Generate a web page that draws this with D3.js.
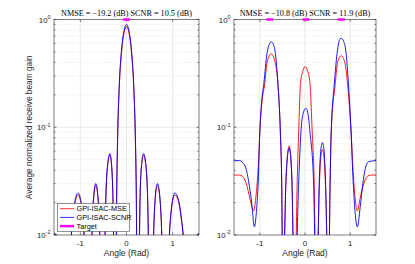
<!DOCTYPE html>
<html>
<head>
<meta charset="utf-8">
<script src="https://cdn.jsdelivr.net/npm/d3@7"></script>
<style>
  body { margin: 0; background: #fff; }
  svg { display: block; font-family: "Liberation Sans", Arial, sans-serif; }
</style>
</head>
<body>
<div id="viz"></div>
<script>
// beam gain vs angle, two panels, log y axis
// values

const angleTicks = [-1, 0, 1];
const gainTicks = [0.01, 0.1, 1];
const gainTickExp = ['-2', '-1', '0'];
const seriesNames = ['GPI-ISAC-MSE', 'GPI-ISAC-SCNR', 'Target'];
const titles = ['NMSE = \u221219.2 (dB) SCNR = 10.5 (dB)', 'NMSE = \u221210.8 (dB) SCNR = 11.9 (dB)'];

// left panel
const leftAngle = [-1.571, -1.52, -1.44, -1.31, -1.18, -1.115, -1.05, -0.99, -0.93, -0.81, -0.7375, -0.70, -0.665, -0.63, -0.5925, -0.52,
  -0.44, -0.40, -0.36, -0.33, -0.30, -0.24, -0.21, -0.19, -0.155, -0.108, -0.05, 0, 0.05, 0.108, 0.155, 0.19, 0.21, 0.24,
  0.30, 0.335, 0.37, 0.41, 0.45, 0.525, 0.60, 0.635, 0.67, 0.71, 0.75, 0.83, 0.94, 0.995, 1.05, 1.13, 1.21, 1.37, 1.46, 1.53, 1.571];
const leftMse = [0.0102, 0.0100, 0.004, 0.002, 0.0118, 0.0200, 0.0235, 0.0200, 0.0118, 0.001, 0.0145, 0.0247, 0.029, 0.0247, 0.0145, 0.001,
  0.0275, 0.047, 0.055, 0.047, 0.0275, 0.001, 0.028, 0.085, 0.24, 0.49, 0.76, 0.86, 0.76, 0.49, 0.24, 0.085, 0.028, 0.001,
  0.0275, 0.047, 0.055, 0.047, 0.0275, 0.001, 0.0145, 0.0247, 0.029, 0.0247, 0.0145, 0.001, 0.0118, 0.0200, 0.0235, 0.0200, 0.0118, 0.002, 0.004, 0.0100, 0.0102];
const leftScnr = [0.0103, 0.0101, 0.004, 0.002, 0.0122, 0.0209, 0.0245, 0.0209, 0.0122, 0.001, 0.015, 0.0256, 0.030, 0.0256, 0.015, 0.001,
  0.0285, 0.0487, 0.057, 0.0487, 0.0285, 0.001, 0.031, 0.09, 0.256, 0.52, 0.80, 0.90, 0.80, 0.52, 0.256, 0.09, 0.031, 0.001,
  0.0285, 0.0487, 0.057, 0.0487, 0.0285, 0.001, 0.015, 0.0256, 0.030, 0.0256, 0.015, 0.001, 0.0122, 0.0209, 0.0245, 0.0209, 0.0122, 0.002, 0.004, 0.0101, 0.0103];
const leftTarget = [[-0.075, 0.075]];

// right panel
const rightMseAngle = [-1.571, -1.45, -1.38, -1.30, -1.22, -1.14, -1.08, -1.035, -1.0, -0.96, -0.89, -0.84, -0.745, -0.66, -0.60, -0.545, -0.515, -0.49,
  -0.42, -0.385, -0.35, -0.32, -0.29, -0.23, -0.17, -0.14, -0.10, -0.05, 0.0, 0.06, 0.11, 0.16, 0.20, 0.25,
  0.32, 0.35, 0.385, 0.42, 0.45, 0.52, 0.555, 0.58, 0.67, 0.72, 0.80, 0.88, 0.94, 1.02, 1.06, 1.10, 1.16, 1.22, 1.30, 1.38, 1.45, 1.571];
const rightMse = [0.036, 0.036, 0.035, 0.030, 0.022, 0.0167, 0.024, 0.042, 0.09, 0.16, 0.256, 0.40, 0.48, 0.40, 0.256, 0.09, 0.03, 0.003,
  0.034, 0.057, 0.067, 0.057, 0.034, 0.002, 0.035, 0.09, 0.256, 0.33, 0.365, 0.33, 0.256, 0.09, 0.035, 0.002,
  0.031, 0.053, 0.062, 0.053, 0.031, 0.003, 0.03, 0.09, 0.256, 0.40, 0.46, 0.40, 0.256, 0.09, 0.042, 0.024, 0.0167, 0.022, 0.030, 0.035, 0.036, 0.036];
const rightScnrAngle = [-1.571, -1.45, -1.38, -1.31, -1.25, -1.18, -1.12, -1.07, -1.035, -1.0, -0.96, -0.91, -0.84, -0.79, -0.745, -0.70, -0.655, -0.60, -0.545, -0.515, -0.49,
  -0.42, -0.385, -0.35, -0.32, -0.29, -0.23, -0.14, -0.09, -0.04, 0.02, 0.07, 0.11, 0.19, 0.25,
  0.32, 0.35, 0.385, 0.42, 0.45, 0.52, 0.555, 0.58, 0.65, 0.71, 0.75, 0.80, 0.86, 0.91, 0.96, 1.02, 1.06, 1.10, 1.16, 1.22, 1.28, 1.35, 1.41, 1.571];
const rightScnr = [0.049, 0.049, 0.047, 0.042, 0.032, 0.020, 0.0119, 0.0175, 0.031, 0.09, 0.17, 0.256, 0.485, 0.59, 0.62, 0.59, 0.485, 0.256, 0.09, 0.03, 0.003,
  0.032, 0.0547, 0.064, 0.0547, 0.032, 0.002, 0.031, 0.09, 0.135, 0.15, 0.13, 0.09, 0.031, 0.002,
  0.036, 0.0615, 0.072, 0.0615, 0.036, 0.003, 0.03, 0.09, 0.256, 0.485, 0.62, 0.67, 0.62, 0.485, 0.256, 0.09, 0.035, 0.018, 0.0119, 0.018, 0.03, 0.044, 0.048, 0.049];
const rightTarget = [[-0.855, -0.705], [-0.05, 0.10], [0.72, 0.88]];

const colors = { mse: '#ff0000', scnr: '#0000ff', target: '#ff00ff' };
const axisColor = '#262626';

function drawChart() {
    const dimensions = {
        width: 415,
        height: 264,
        top: 19.5,
        bottom: 235
    };

    const panels = [
        { id: 'l', left: 54, right: 199, title: titles[0],
          mse: d3.zip(leftAngle, leftMse), scnr: d3.zip(leftAngle, leftScnr), target: leftTarget },
        { id: 'r', left: 234, right: 376, title: titles[1],
          mse: d3.zip(rightMseAngle, rightMse), scnr: d3.zip(rightScnrAngle, rightScnr), target: rightTarget }
    ];

    const svg = d3.select('#viz').append('svg')
        .attr('width', dimensions.width)
        .attr('height', dimensions.height);

    panels.forEach(p => drawPanel(svg, p, dimensions));

    // y label
    svg.append('text')
        .attr('transform', `translate(32, ${(dimensions.top + dimensions.bottom) / 2}) rotate(-90)`)
        .attr('text-anchor', 'middle')
        .attr('font-size', 8.3)
        .attr('fill', axisColor)
        .text('Average normalized receive beam gain');

    // legend on left panel
    const legend = svg.append('g').attr('transform', 'translate(57.5, 203.5)');
    legend.append('rect')
        .attr('width', 72).attr('height', 28)
        .attr('fill', '#fff')
        .attr('stroke', axisColor)
        .attr('stroke-width', 0.5);
    const legendColors = [colors.mse, colors.scnr, colors.target];
    const legendWidths = [0.8, 0.8, 2.5];
    seriesNames.forEach((name, i) => {
        const yy = 5.2 + i * 8.7;
        legend.append('line')
            .attr('x1', 2.5).attr('x2', 16.5)
            .attr('y1', yy).attr('y2', yy)
            .attr('stroke', legendColors[i])
            .attr('stroke-width', legendWidths[i]);
        legend.append('text')
            .attr('x', 19).attr('y', yy + 2.5)
            .attr('font-size', 7.3)
            .attr('fill', '#000')
            .text(name);
    });
}

function drawPanel(svg, p, dims) {
    const xScale = d3.scaleLinear()
        .domain([-Math.PI / 2, Math.PI / 2])
        .range([p.left, p.right]);
    const yScale = d3.scaleLog()
        .domain([0.01, 1])
        .range([dims.bottom, dims.top]);

    const g = svg.append('g');

    // grid
    const minor = yScale.ticks().filter(t => !gainTicks.some(m => Math.abs(m - t) < 1e-9));
    g.selectAll('.minor')
        .data(minor)
        .join('line')
        .attr('x1', p.left).attr('x2', p.right)
        .attr('y1', d => yScale(d)).attr('y2', d => yScale(d))
        .attr('stroke', '#d9d9d9')
        .attr('stroke-width', 0.6)
        .attr('stroke-dasharray', '1,1.5');
    g.append('line')
        .attr('x1', p.left).attr('x2', p.right)
        .attr('y1', yScale(0.1)).attr('y2', yScale(0.1))
        .attr('stroke', '#e3e3e3')
        .attr('stroke-width', 0.8);
    g.selectAll('.vgrid')
        .data(angleTicks)
        .join('line')
        .attr('x1', d => xScale(d)).attr('x2', d => xScale(d))
        .attr('y1', dims.top).attr('y2', dims.bottom)
        .attr('stroke', '#e3e3e3')
        .attr('stroke-width', 0.8);

    // curves
    const clipId = 'clip-' + p.id;
    svg.append('clipPath').attr('id', clipId)
        .append('rect')
        .attr('x', p.left).attr('y', dims.top)
        .attr('width', p.right - p.left).attr('height', dims.bottom - dims.top);

    const line = d3.line()
        .x(d => xScale(d[0]))
        .y(d => yScale(d[1]))
        .curve(d3.curveMonotoneX);

    const curves = g.append('g').attr('clip-path', `url(#${clipId})`);
    curves.append('path')
        .datum(p.mse)
        .attr('fill', 'none')
        .attr('stroke', colors.mse)
        .attr('stroke-width', 0.9)
        .attr('d', line);
    curves.append('path')
        .datum(p.scnr)
        .attr('fill', 'none')
        .attr('stroke', colors.scnr)
        .attr('stroke-width', 0.9)
        .attr('d', line);

    // box
    g.append('rect')
        .attr('x', p.left).attr('y', dims.top)
        .attr('width', p.right - p.left).attr('height', dims.bottom - dims.top)
        .attr('fill', 'none')
        .attr('stroke', axisColor)
        .attr('stroke-width', 0.6);

    // ticks inside the box
    const ticks = g.append('g').attr('stroke', axisColor).attr('stroke-width', 0.6);
    angleTicks.forEach(t => {
        const xx = xScale(t);
        ticks.append('line').attr('x1', xx).attr('x2', xx).attr('y1', dims.bottom).attr('y2', dims.bottom - 2.5);
        ticks.append('line').attr('x1', xx).attr('x2', xx).attr('y1', dims.top).attr('y2', dims.top + 2.5);
    });
    yScale.ticks().forEach(t => {
        const yy = yScale(t);
        const len = gainTicks.some(m => Math.abs(m - t) < 1e-9) ? 2.5 : 1.5;
        ticks.append('line').attr('x1', p.left).attr('x2', p.left + len).attr('y1', yy).attr('y2', yy);
        ticks.append('line').attr('x1', p.right).attr('x2', p.right - len).attr('y1', yy).attr('y2', yy);
    });

    // tick labels
    g.selectAll('.xlab')
        .data(angleTicks)
        .join('text')
        .attr('x', d => xScale(d))
        .attr('y', dims.bottom + 10.5)
        .attr('text-anchor', 'middle')
        .attr('font-size', 7.8)
        .attr('fill', axisColor)
        .text(d => d);

    gainTicks.forEach((t, i) => {
        const txt = g.append('text')
            .attr('x', p.left - 3.5)
            .attr('y', yScale(t) + 3)
            .attr('text-anchor', 'end')
            .attr('font-size', 7.8)
            .attr('fill', axisColor);
        txt.append('tspan').text('10');
        txt.append('tspan').attr('dy', -3.6).attr('font-size', 5.4).text(gainTickExp[i]);
    });

    // x label
    g.append('text')
        .attr('x', (p.left + p.right) / 2)
        .attr('y', dims.bottom + 20.5)
        .attr('text-anchor', 'middle')
        .attr('font-size', 8.5)
        .attr('fill', axisColor)
        .text('Angle (Rad)');

    // title
    g.append('text')
        .attr('x', (p.left + p.right) / 2)
        .attr('y', 16)
        .attr('text-anchor', 'middle')
        .attr('font-family', '"Liberation Serif", "Times New Roman", serif')
        .attr('font-size', 8.2)
        .attr('fill', '#000')
        .text(p.title);

    // target beams at gain 1
    p.target.forEach(seg => {
        g.append('line')
            .attr('x1', xScale(seg[0])).attr('x2', xScale(seg[1]))
            .attr('y1', yScale(1)).attr('y2', yScale(1))
            .attr('stroke', colors.target)
            .attr('stroke-width', 2.5);
    });
}

drawChart();
</script>
</body>
</html>
